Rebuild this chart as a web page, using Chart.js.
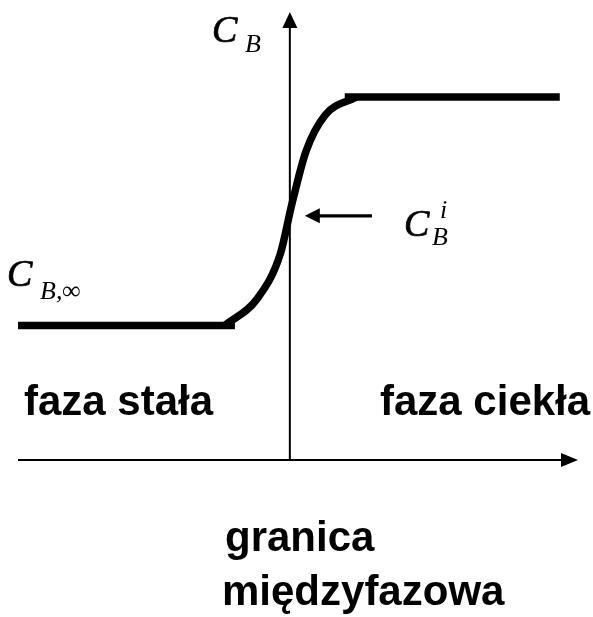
<!DOCTYPE html>
<html lang="pl">
<head>
<meta charset="utf-8">
<title>Profil stężenia składnika B przy granicy faz</title>
<script src="https://cdn.jsdelivr.net/npm/chart.js@4.4.1/dist/chart.umd.min.js"></script>
<style>
  html, body { margin: 0; padding: 0; background: #fff; }
  #wykres { display: block; }
</style>
</head>
<body>
<canvas id="wykres" width="593" height="617"></canvas>
<script>
// położenie względem granicy faz (j. umowne, 0 = granica) i stężenie C_B w strefie przejściowej
const polozenie = [-2.4, -1.2, -0.35, 0.07, 0.6, 1.3, 2.45];
const stezenie  = [3.0, 3.6, 4.6, 5.7, 6.9, 7.7, 8.1];

// stężenia ustalone w głębi faz
const fazaStalaX = [-10, -2.02];
const fazaStalaC = [3.0, 3.0];
const fazaCieklaX = [2.02, 9.93];
const fazaCieklaC = [8.1, 8.1];

const zakresX = [-10, 10.6];
const zakresY = [0, 10];

// strzałka wskazująca stężenie na granicy faz C_B^i
const stezenieGranica = 5.45;
const strzalkaX = [3.02, 0.55];

const naPunkty = (xs, cs) => xs.map((p, i) => ({ x: p, y: cs[i] }));

function grot(ctx, x, y, kat, dl, szer) {
    ctx.save();
    ctx.translate(x, y);
    ctx.rotate(kat);
    ctx.beginPath();
    ctx.moveTo(0, 0);
    ctx.lineTo(-dl, -szer / 2);
    ctx.lineTo(-dl, szer / 2);
    ctx.closePath();
    ctx.fill();
    ctx.restore();
}

const SERIF = '"Liberation Serif", "Times New Roman", serif';
const SANS = '"Liberation Sans", Arial, sans-serif';

const osieIPodpisy = {
    id: 'osieIPodpisy',
    afterDatasetsDraw(chart) {
        const { ctx, scales: { x, y } } = chart;
        const x0 = x.getPixelForValue(0);
        const y0 = y.getPixelForValue(0);
        const xL = x.getPixelForValue(zakresX[0]);
        const xR = x.getPixelForValue(zakresX[1]);
        const yT = y.getPixelForValue(zakresY[1]);

        ctx.save();
        ctx.strokeStyle = '#000';
        ctx.fillStyle = '#000';
        ctx.lineCap = 'butt';

        // oś pozioma
        ctx.lineWidth = 2;
        ctx.beginPath();
        ctx.moveTo(xL, y0);
        ctx.lineTo(xR - 12, y0);
        ctx.stroke();
        grot(ctx, xR, y0, 0, 17, 14);

        // oś pionowa (granica faz)
        ctx.beginPath();
        ctx.moveTo(x0, y0);
        ctx.lineTo(x0, yT + 12);
        ctx.stroke();
        grot(ctx, x0, yT, -Math.PI / 2, 16, 15);

        // strzałka C_B^i
        const ya = y.getPixelForValue(stezenieGranica);
        const xa1 = x.getPixelForValue(strzalkaX[0]);
        const xa2 = x.getPixelForValue(strzalkaX[1]);
        ctx.lineWidth = 3.3;
        ctx.beginPath();
        ctx.moveTo(xa1, ya);
        ctx.lineTo(xa2 + 12, ya);
        ctx.stroke();
        grot(ctx, xa2, ya, Math.PI, 15, 15);

        // symbole stężeń; duże C lekko pogrubione obrysem
        ctx.textBaseline = 'alphabetic';
        ctx.textAlign = 'left';
        ctx.lineWidth = 0.7;
        const duzeC = (bx, by) => {
            ctx.font = 'italic 38px ' + SERIF;
            ctx.fillText('C', bx, by);
            ctx.strokeText('C', bx, by);
        };
        const indeks = (t, bx, by) => {
            ctx.font = 'italic 26px ' + SERIF;
            ctx.fillText(t, bx, by);
        };
        duzeC(212, 42);
        indeks('B', 245, 52);

        duzeC(404, 236);
        indeks('i', 440, 218);
        indeks('B', 432, 245);

        duzeC(7, 286);
        indeks('B,', 40, 299);
        ctx.font = '26px ' + SERIF;
        ctx.fillText('\u221E', 62, 299);

        // opisy faz i granicy
        ctx.font = 'bold 42px ' + SANS;
        ctx.fillText('faza stała', 24, 415);
        ctx.fillText('faza ciekła', 380, 415);
        ctx.fillText('granica', 225, 551);
        ctx.fillText('międzyfazowa', 222, 605);
        ctx.restore();
    }
};

const linia = {
    showLine: true,
    borderColor: '#000',
    borderWidth: 7.5,
    borderCapStyle: 'butt',
    borderJoinStyle: 'round',
    pointRadius: 0,
    fill: false
};

new Chart(document.getElementById('wykres'), {
    type: 'scatter',
    data: {
        datasets: [
            { ...linia, data: naPunkty(polozenie, stezenie), cubicInterpolationMode: 'monotone' },
            { ...linia, data: naPunkty(fazaStalaX, fazaStalaC) },
            { ...linia, data: naPunkty(fazaCieklaX, fazaCieklaC) }
        ]
    },
    options: {
        responsive: false,
        animation: false,
        events: [],
        layout: { padding: { left: 18, right: 15, top: 12, bottom: 157 } },
        plugins: { legend: { display: false }, tooltip: { enabled: false } },
        scales: {
            x: { type: 'linear', min: zakresX[0], max: zakresX[1], display: false },
            y: { type: 'linear', min: zakresY[0], max: zakresY[1], display: false }
        }
    },
    plugins: [osieIPodpisy]
});
</script>
</body>
</html>
